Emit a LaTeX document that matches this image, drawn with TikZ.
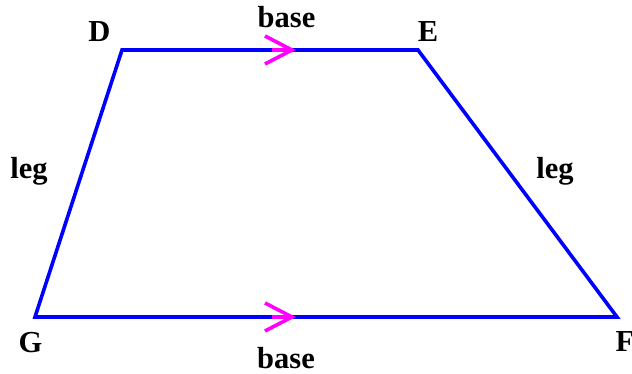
\documentclass[tikz,border=0pt]{standalone}
\usepackage{fontspec}
\setmainfont{Liberation Serif}
\begin{document}
\begin{tikzpicture}[x=1pt,y=-1pt,
  side/.style={draw={rgb,255:red,0;green,0;blue,255},line width=3.6pt,line join=miter},
  parmark/.style={draw={rgb,255:red,255;green,0;blue,255},line width=3.6pt},
  lbl/.style={font=\fontsize{30.5}{32}\selectfont\bfseries,inner sep=0pt,anchor=base}]
\useasboundingbox (0,0) rectangle (632,374);
\coordinate (D) at (122,50);
\coordinate (E) at (418,50);
\coordinate (F) at (617,317);
\coordinate (G) at (35,317);
\draw[side] (D) -- (E) -- (F) -- (G) -- cycle;
% parallel marks
\coordinate (t1) at (292,50);
\coordinate (t2) at (292,317);
\draw[parmark] ([shift={(-20,0)}]t1) -- (t1);
\draw[parmark] ([shift={(-27,-14)}]t1) -- (t1) -- ([shift={(-27,14)}]t1);
\draw[parmark] ([shift={(-20,0)}]t2) -- (t2);
\draw[parmark] ([shift={(-27,-14)}]t2) -- (t2) -- ([shift={(-27,14)}]t2);
% labels
\node[lbl] (lD) at (99.5,42) {D};
\node[lbl] (lE) at (428,42) {E};
\node[lbl] (bt) at (286.5,28) {base};
\node[lbl] (bb) at (286,368) {base};
\node[lbl] (l1) at (29,179) {leg};
\node[lbl] (l2) at (555,179) {leg};
\begin{scope}
\clip (0,0) rectangle (632,352);
\node[lbl] (lG) at (30.5,352) {G};
\node[lbl,anchor=base west] (lF) at (615.5,351) {F};
\end{scope}
\end{tikzpicture}
\end{document}
